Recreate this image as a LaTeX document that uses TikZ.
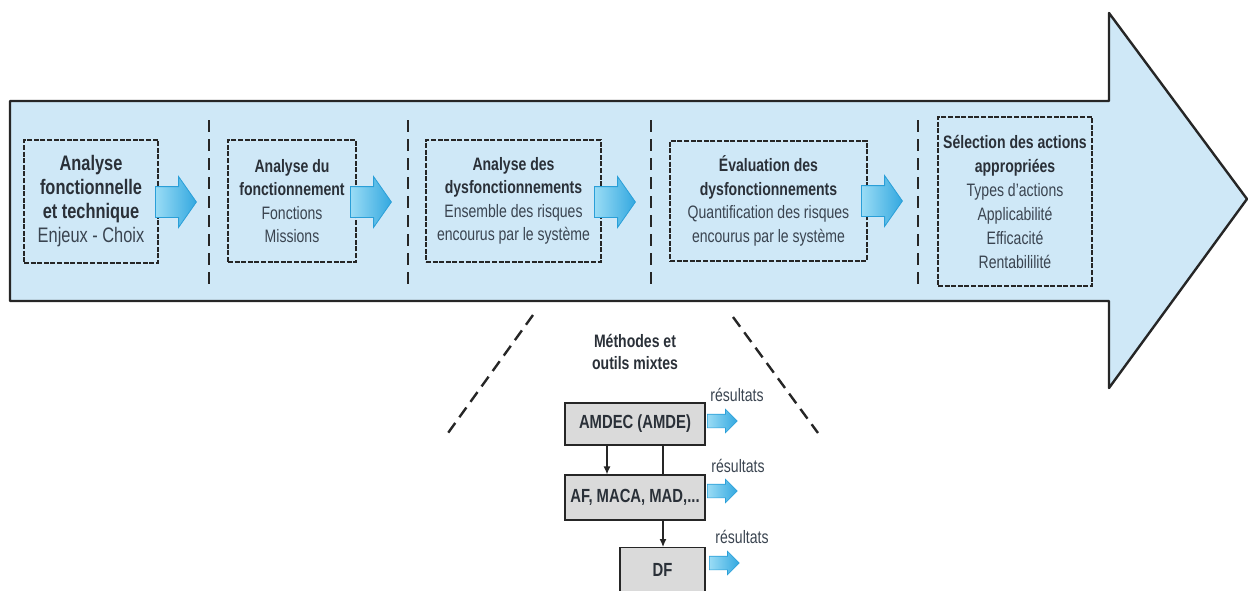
\documentclass[tikz,border=0pt]{standalone}
\usepackage{fontspec}
\setmainfont{Liberation Sans}[FakeStretch=0.78]
\usetikzlibrary{shapes.arrows,arrows.meta}
\definecolor{bigfill}{HTML}{CFE8F7}
\definecolor{edge}{HTML}{262626}
\definecolor{title}{HTML}{2A3038}
\definecolor{body}{HTML}{3A4450}
\definecolor{arrlight}{HTML}{9ADCF5}
\definecolor{arrdark}{HTML}{33A8E0}
\definecolor{arredge}{HTML}{2A9FD8}
\definecolor{toolfill}{HTML}{DADADA}
\begin{document}
\begin{tikzpicture}[x=1pt,y=-1pt,
  stagebox/.style={draw=edge,line width=2.1pt,dash pattern=on 5pt off 1.6pt,
    inner sep=0pt,align=center,text=body},
  blockarrow/.style={single arrow,draw=arredge,line width=0.8pt,
    left color=arrlight,right color=arrdark,inner xsep=0pt,inner ysep=15pt,
    minimum height=41pt,minimum width=0pt,single arrow head extend=10pt,
    single arrow tip angle=110,anchor=tail},
  resarrow/.style={single arrow,draw=arredge,line width=0.6pt,
    left color=arrlight,right color=arrdark,inner xsep=0pt,inner ysep=6.5pt,
    minimum height=30pt,minimum width=0pt,single arrow head extend=5pt,
    single arrow tip angle=90,anchor=tail},
  divider/.style={draw=edge,line width=1.1pt,dash pattern=on 12pt off 7pt},
  fan/.style={draw=edge,line width=2.4pt,dash pattern=on 12pt off 7pt},
  toolbox/.style={draw=edge,line width=1.2pt,fill=toolfill,inner sep=0pt,
    text=title,font=\bfseries\fontsize{19}{22}\selectfont},
  reslabel/.style={text=body,inner sep=0pt,font=\fontsize{18}{20}\selectfont},
  flow/.style={draw=edge,line width=1.2pt}]
\useasboundingbox (0,0) rectangle (1248,590);
\begin{scope}
\clip (0,0) rectangle (1248,590);

% main process arrow
\draw[fill=bigfill,draw=edge,line width=2.4pt,line join=round]
  (10,101) -- (1109,101) -- (1109,13) -- (1247,199) -- (1109,388)
  -- (1109,301) -- (10,301) -- cycle;

% stage separators
\foreach \x in {209,408,651,918}
  \draw[divider] (\x,120) -- (\x,290);

% stages
\node[stagebox,minimum width=134pt,minimum height=123pt,
  font=\fontsize{21}{24}\selectfont] (s1) at (91,201.5)
  {{\bfseries\color{title}Analyse}\\{\bfseries\color{title}fonctionnelle}\\
   {\bfseries\color{title}et technique}\\Enjeux - Choix};
\node[stagebox,minimum width=128pt,minimum height=122pt,
  font=\fontsize{18}{23.5}\selectfont] (s2) at (292,201)
  {{\bfseries\color{title}Analyse du}\\{\bfseries\color{title}fonctionnement}\\
   Fonctions\\Missions};
\node[stagebox,minimum width=175pt,minimum height=122pt,
  font=\fontsize{18}{23.5}\selectfont] (s3) at (513.5,201)
  {{\bfseries\color{title}Analyse des}\\{\bfseries\color{title}dysfonctionnements}\\
   Ensemble des risques\\encourus par le système};
\node[stagebox,minimum width=197pt,minimum height=120pt,
  font=\fontsize{18}{23.5}\selectfont] (s4) at (768.5,201)
  {{\bfseries\color{title}Évaluation des}\\{\bfseries\color{title}dysfonctionnements}\\
   Quantification des risques\\encourus par le système};
\node[stagebox,minimum width=154pt,minimum height=169pt,
  font=\fontsize{18}{24}\selectfont] (s5) at (1015,201.5)
  {{\bfseries\color{title}Sélection des actions}\\{\bfseries\color{title}appropriées}\\
   Types d'actions\\Applicabilité\\Efficacité\\Rentabililité};

% transitions between stages
\node[blockarrow] (a1) at (155,202) {};
\node[blockarrow] (a2) at (350,202) {};
\node[blockarrow] (a3) at (594,202) {};
\node[blockarrow] (a4) at (861,201) {};

% zoom onto the dysfunction analysis
\coordinate (fl1) at (533,315);
\coordinate (fl2) at (448,433);
\coordinate (fr1) at (733,317);
\coordinate (fr2) at (818,433);
\draw[fan] (fl1) -- (fl2);
\draw[fan] (fr1) -- (fr2);

\node[align=center,text=title,inner sep=0pt,
  font=\bfseries\fontsize{18}{22}\selectfont] (mixed) at (635,352)
  {Méthodes et\\outils mixtes};

% tools
\node[toolbox,minimum width=140pt,minimum height=42pt] (amdec) at (635,424) {AMDEC (AMDE)};
\node[toolbox,minimum width=140pt,minimum height=45pt] (af) at (635,497.5) {AF, MACA, MAD,...};
\node[toolbox,minimum width=85pt,minimum height=56pt,anchor=north] (df) at (662.5,547) {};
\node[text=title,font=\bfseries\fontsize{19}{22}\selectfont,inner sep=0pt] (dft) at (662.5,570) {DF};

\draw[flow,-{Latex[length=8pt,width=7pt]}] (amdec.south -| 607,0) -- (af.north -| 607,0);
\draw[flow] (amdec.south -| 663,0) -- (af.north -| 663,0);
\draw[flow,-{Latex[length=8pt,width=7pt]}] (af.south -| 663,0) -- (df.north -| 663,0);

% outputs
\node[resarrow] (r1) at (707,421) {};
\node[resarrow] (r2) at (707,491) {};
\node[resarrow] (r3) at (709,563) {};
\node[reslabel] (l1) at (737,395) {résultats};
\node[reslabel] (l2) at (738,466) {résultats};
\node[reslabel] (l3) at (742,537) {résultats};
\end{scope}
\end{tikzpicture}
\end{document}
